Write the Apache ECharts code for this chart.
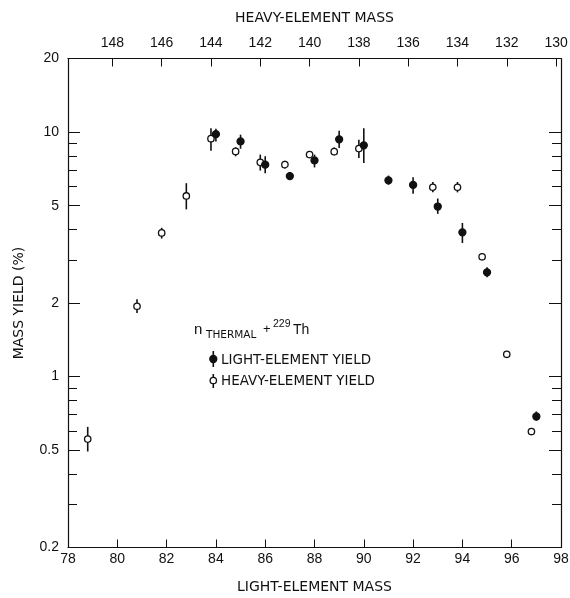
<!DOCTYPE html>
<html>
<head>
<meta charset="utf-8">
<title>Mass yield n + 229Th</title>
<script src="https://cdn.jsdelivr.net/npm/echarts@6/dist/echarts.min.js"></script>
<style>
  html, body { margin: 0; padding: 0; background: #fff; }
  #chart { width: 570px; height: 598px; }
</style>
</head>
<body>
<div id="chart"></div>
<script>
// light-element yield (filled points), plotted against the bottom axis
var lightMass = [84, 85, 86, 87, 88, 89, 90, 91, 92, 93, 94, 95, 97]
var lightYield = [9.81, 9.16, 7.36, 6.61, 7.66, 9.34, 8.83, 6.35, 6.08, 4.96, 3.89, 2.67, 0.687]
var lightLow = [9.16, 8.55, 6.78, 6.39, 7.17, 8.6, 7.47, 6.1, 5.6, 4.63, 3.52, 2.55, 0.66]
var lightHigh = [10.33, 9.76, 7.96, 6.85, 8.09, 10.13, 10.38, 6.64, 6.53, 5.35, 4.25, 2.8, 0.72]

// heavy-element yield (open points), plotted against the top axis
var heavyMass = [149, 147, 146, 145, 144, 143, 142, 141, 140, 139, 138, 135, 134, 133, 132, 131]
var heavyYield = [0.555, 1.94, 3.87, 5.48, 9.4, 8.34, 7.52, 7.36, 8.09, 8.32, 8.56, 5.95, 5.95, 3.09, 1.234, 0.596]
var heavyLow = [0.494, 1.82, 3.67, 4.83, 8.39, 7.96, 6.96, 7.09, 7.83, 8.04, 7.83, 5.67, 5.67, 3.09, 1.234, 0.596]
var heavyHigh = [0.623, 2.07, 4.06, 6.18, 10.38, 8.66, 8.09, 7.64, 8.34, 8.66, 9.31, 6.25, 6.25, 3.09, 1.234, 0.596]

// tick values
var heavyTicks = [130, 132, 134, 136, 138, 140, 142, 144, 146, 148]
var yMajor = [0.2, 0.5, 1, 2, 5, 10, 20]
var yMinor = [0.3, 0.4, 0.6, 0.7, 0.8, 0.9, 3, 4, 6, 7, 8, 9]

var ink = '#111'
var font = 'Liberation Sans, Arial, sans-serif'
var titleFont = 'DejaVu Sans, sans-serif'

function build (xs, ys, lo, hi) {
  var out = []
  for (var i = 0; i < xs.length; i++) {
    out.push([xs[i], ys[i], lo[i], hi[i]])
  }
  return out
}

function pointRenderer (filled) {
  return function (params, api) {
    var x = api.value(0)
    var c = api.coord([x, api.value(1)])
    var a = api.coord([x, api.value(2)])
    var b = api.coord([x, api.value(3)])
    return {
      type: 'group',
      children: [{
        type: 'line',
        shape: { x1: c[0], y1: a[1], x2: c[0], y2: b[1] },
        style: { stroke: ink, lineWidth: 1.6 }
      }, {
        type: 'circle',
        shape: { cx: c[0], cy: c[1], r: filled ? 3.5 : 3.2 },
        style: { fill: filled ? ink : '#fff', stroke: ink, lineWidth: 1.3 }
      }]
    }
  }
}

function yAxisDef (pos, values, len, labels) {
  return {
    type: 'log',
    logBase: 10,
    min: 0.2,
    max: 20,
    position: pos,
    axisLine: { show: labels !== null, lineStyle: { color: ink, width: 1.2 } },
    axisTick: { inside: true, length: len, customValues: values, lineStyle: { color: ink, width: 1 } },
    axisLabel: labels ? { show: true, customValues: values, margin: 9, color: ink, fontSize: 14, fontFamily: font } : { show: false },
    splitLine: { show: false },
    minorTick: { show: false }
  }
}

var myChart = echarts.init(document.getElementById('chart'))

var leftMajor = yAxisDef('left', yMajor, 12, true)
leftMajor.name = 'MASS YIELD (%)'
leftMajor.nameLocation = 'middle'
leftMajor.nameGap = 42
leftMajor.nameTextStyle = { color: ink, fontSize: 14, fontFamily: titleFont }

var option = {
  animation: false,
  backgroundColor: '#fff',
  grid: {
    left: 68,
    right: 9,
    top: 58.5,
    bottom: 50.5,
    outerBoundsMode: 'none'
  },
  xAxis: [{
    type: 'value',
    min: 78,
    max: 98,
    interval: 2,
    position: 'bottom',
    axisLine: { lineStyle: { color: ink, width: 1.2 } },
    axisTick: { inside: true, length: 8, lineStyle: { color: ink, width: 1 } },
    axisLabel: { margin: 5, color: ink, fontSize: 14, fontFamily: font },
    splitLine: { show: false },
    name: 'LIGHT-ELEMENT MASS',
    nameLocation: 'middle',
    nameGap: 33,
    nameTextStyle: { color: ink, fontSize: 14, fontFamily: titleFont }
  }, {
    type: 'value',
    min: 129.8,
    max: 149.8,
    inverse: true,
    position: 'top',
    axisLine: { lineStyle: { color: ink, width: 1.2 } },
    axisTick: { inside: true, length: 8, customValues: heavyTicks, lineStyle: { color: ink, width: 1 } },
    axisLabel: { margin: 8, customValues: heavyTicks, color: ink, fontSize: 14, fontFamily: font },
    splitLine: { show: false },
    name: 'HEAVY-ELEMENT MASS',
    nameLocation: 'middle',
    nameGap: 33,
    nameTextStyle: { color: ink, fontSize: 14, fontFamily: titleFont }
  }],
  yAxis: [
    leftMajor,
    yAxisDef('left', yMinor, 9, null),
    yAxisDef('right', yMajor, 12, false),
    yAxisDef('right', yMinor, 9, null)
  ],
  series: [{
    name: 'LIGHT-ELEMENT YIELD',
    type: 'custom',
    xAxisIndex: 0,
    yAxisIndex: 0,
    renderItem: pointRenderer(true),
    data: build(lightMass, lightYield, lightLow, lightHigh),
    z: 3
  }, {
    name: 'HEAVY-ELEMENT YIELD',
    type: 'custom',
    xAxisIndex: 1,
    yAxisIndex: 0,
    renderItem: pointRenderer(false),
    data: build(heavyMass, heavyYield, heavyLow, heavyHigh),
    z: 2
  }],
  // legend block drawn by hand (markers carry error bars)
  graphic: [
    { type: 'text', left: 194, top: 322, style: { text: 'n', fill: ink, fontSize: 15, fontFamily: font } },
    { type: 'text', left: 206, top: 330, style: { text: 'THERMAL', fill: ink, fontSize: 10.5, fontFamily: titleFont } },
    { type: 'text', left: 263, top: 323, style: { text: '+', fill: ink, fontSize: 13, fontFamily: font } },
    { type: 'text', left: 273, top: 319, style: { text: '229', fill: ink, fontSize: 10.5, fontFamily: font } },
    { type: 'text', left: 293, top: 323, style: { text: 'Th', fill: ink, fontSize: 14, fontFamily: font } },
    { type: 'line', shape: { x1: 213.3, y1: 351, x2: 213.3, y2: 367 }, style: { stroke: ink, lineWidth: 1.6 } },
    { type: 'circle', shape: { cx: 213.3, cy: 359, r: 3.5 }, style: { fill: ink, stroke: ink, lineWidth: 1.3 } },
    { type: 'text', left: 221, top: 353, style: { text: 'LIGHT-ELEMENT YIELD', fill: ink, fontSize: 13.5, fontFamily: titleFont } },
    { type: 'line', shape: { x1: 213.3, y1: 374, x2: 213.3, y2: 388 }, style: { stroke: ink, lineWidth: 1.6 } },
    { type: 'circle', shape: { cx: 213.3, cy: 380.5, r: 3.2 }, style: { fill: '#fff', stroke: ink, lineWidth: 1.3 } },
    { type: 'text', left: 221, top: 374, style: { text: 'HEAVY-ELEMENT YIELD', fill: ink, fontSize: 13.5, fontFamily: titleFont } }
  ]
}

myChart.setOption(option)
window.addEventListener('resize', function () {
  myChart.resize()
})
</script>
</body>
</html>
